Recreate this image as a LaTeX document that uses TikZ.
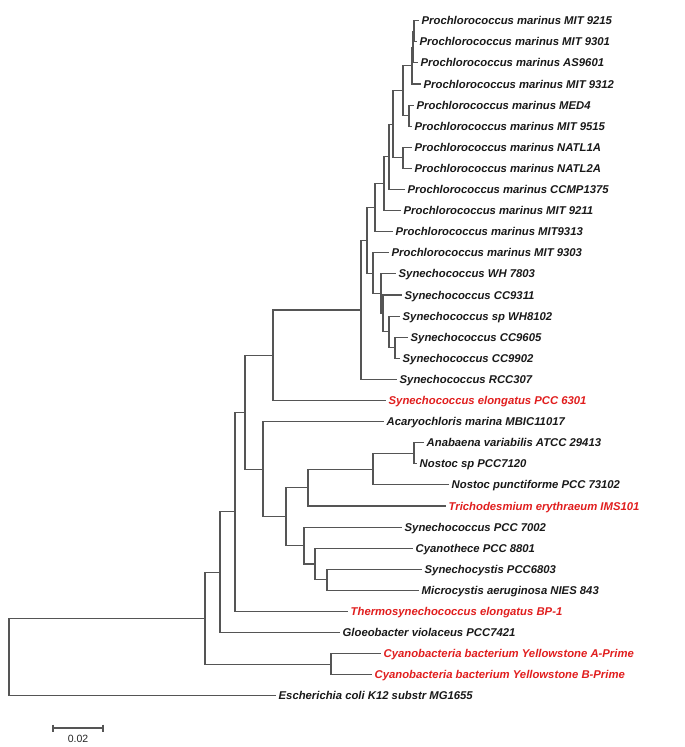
\documentclass[tikz,border=0pt]{standalone}
\usepackage{fontspec}
\setmainfont{Liberation Sans}
\definecolor{brc}{RGB}{85,85,85}
\definecolor{redlab}{RGB}{225,30,30}
\tikzset{
  br/.style={draw=brc, line width=1.1pt, line cap=rect},
  lab/.style={anchor=base west, inner sep=0pt, xshift=3.5pt, yshift=-4pt,
              font=\fontsize{11.3}{13}\selectfont\bfseries\itshape, text=black!90},
  labred/.style={lab, text=redlab},
}
\begin{document}
\begin{tikzpicture}[x=1pt,y=-1pt]
\fill[white] (0,0) rectangle (685,747);
\useasboundingbox (0,0) rectangle (685,747);
% tips
\coordinate (t0) at (418,20.7);
\coordinate (t1) at (416,41.8);
\coordinate (t2) at (417,62.9);
\coordinate (t3) at (420,84.0);
\coordinate (t4) at (413,105.1);
\coordinate (t5) at (411,126.2);
\coordinate (t6) at (411,147.3);
\coordinate (t7) at (411,168.4);
\coordinate (t8) at (404,189.5);
\coordinate (t9) at (400,210.6);
\coordinate (t10) at (392,231.7);
\coordinate (t11) at (388,252.8);
\coordinate (t12) at (395,273.9);
\coordinate (t13) at (401,295.0);
\coordinate (t14) at (399,316.1);
\coordinate (t15) at (407,337.2);
\coordinate (t16) at (399,358.3);
\coordinate (t17) at (396,379.4);
\coordinate (t18) at (385,400.5);
\coordinate (t19) at (383,421.6);
\coordinate (t20) at (423,442.7);
\coordinate (t21) at (416,463.8);
\coordinate (t22) at (448,484.9);
\coordinate (t23) at (445,506.0);
\coordinate (t24) at (401,527.1);
\coordinate (t25) at (412,548.2);
\coordinate (t26) at (421,569.3);
\coordinate (t27) at (418,590.4);
\coordinate (t28) at (347,611.5);
\coordinate (t29) at (339,632.6);
\coordinate (t30) at (380,653.7);
\coordinate (t31) at (371,674.8);
\coordinate (t32) at (275,695.9);
% internal nodes
\coordinate (c1) at (414,31.25);
\coordinate (c2) at (413,47.08);
\coordinate (c3) at (412,65.54);
\coordinate (d1) at (409,115.65);
\coordinate (e1) at (403,90.6);
\coordinate (f1) at (403,157.85);
\coordinate (g1) at (393,124.2);
\coordinate (h1) at (389,156.85);
\coordinate (i1) at (384,183.7);
\coordinate (j1) at (375,207.7);
\coordinate (n1) at (395,347.75);
\coordinate (n2) at (389,331.9);
\coordinate (n3) at (383,313.45);
\coordinate (n4) at (381,293.7);
\coordinate (n5) at (373,273.25);
\coordinate (k1) at (367,240.5);
\coordinate (F) at (361,309.95);
\coordinate (D) at (273,355.2);
\coordinate (T) at (414,453.25);
\coordinate (S) at (373,469.1);
\coordinate (Q) at (308,487.55);
\coordinate (V) at (327,579.85);
\coordinate (U) at (315,564.0);
\coordinate (R) at (304,545.55);
\coordinate (P) at (286,516.55);
\coordinate (E) at (263,469.1);
\coordinate (C) at (245,412.15);
\coordinate (B) at (235,511.8);
\coordinate (A) at (220,572.2);
\coordinate (Y) at (331,664.25);
\coordinate (I) at (205,618.2);
\coordinate (root) at (9,657.05);
% branches
\draw[br] (c1) |- (t0); \draw[br] (c1) |- (t1);
\draw[br] (c2) |- (c1); \draw[br] (c2) |- (t2);
\draw[br] (c3) |- (c2); \draw[br] (c3) |- (t3);
\draw[br] (d1) |- (t4); \draw[br] (d1) |- (t5);
\draw[br] (e1) |- (c3); \draw[br] (e1) |- (d1);
\draw[br] (f1) |- (t6); \draw[br] (f1) |- (t7);
\draw[br] (g1) |- (e1); \draw[br] (g1) |- (f1);
\draw[br] (h1) |- (g1); \draw[br] (h1) |- (t8);
\draw[br] (i1) |- (h1); \draw[br] (i1) |- (t9);
\draw[br] (j1) |- (i1); \draw[br] (j1) |- (t10);
\draw[br] (n1) |- (t15); \draw[br] (n1) |- (t16);
\draw[br] (n2) |- (t14); \draw[br] (n2) |- (n1);
\draw[br] (n3) |- (t13); \draw[br] (n3) |- (n2);
\draw[br] (n4) |- (t12); \draw[br] (n4) |- (n3);
\draw[br] (n5) |- (t11); \draw[br] (n5) |- (n4);
\draw[br] (k1) |- (j1); \draw[br] (k1) |- (n5);
\draw[br] (F) |- (k1); \draw[br] (F) |- (t17);
\draw[br] (D) |- (F); \draw[br] (D) |- (t18);
\draw[br] (T) |- (t20); \draw[br] (T) |- (t21);
\draw[br] (S) |- (T); \draw[br] (S) |- (t22);
\draw[br] (Q) |- (S); \draw[br] (Q) |- (t23);
\draw[br] (V) |- (t26); \draw[br] (V) |- (t27);
\draw[br] (U) |- (t25); \draw[br] (U) |- (V);
\draw[br] (R) |- (t24); \draw[br] (R) |- (U);
\draw[br] (P) |- (Q); \draw[br] (P) |- (R);
\draw[br] (E) |- (t19); \draw[br] (E) |- (P);
\draw[br] (C) |- (D); \draw[br] (C) |- (E);
\draw[br] (B) |- (C); \draw[br] (B) |- (t28);
\draw[br] (A) |- (B); \draw[br] (A) |- (t29);
\draw[br] (Y) |- (t30); \draw[br] (Y) |- (t31);
\draw[br] (I) |- (A); \draw[br] (I) |- (Y);
\draw[br] (root) |- (I); \draw[br] (root) |- (t32);
% labels
\node[lab] (L0) at (t0) {Prochlorococcus marinus MIT 9215};
\node[lab] (L1) at (t1) {Prochlorococcus marinus MIT 9301};
\node[lab] (L2) at (t2) {Prochlorococcus marinus AS9601};
\node[lab] (L3) at (t3) {Prochlorococcus marinus MIT 9312};
\node[lab] (L4) at (t4) {Prochlorococcus marinus MED4};
\node[lab] (L5) at (t5) {Prochlorococcus marinus MIT 9515};
\node[lab] (L6) at (t6) {Prochlorococcus marinus NATL1A};
\node[lab] (L7) at (t7) {Prochlorococcus marinus NATL2A};
\node[lab] (L8) at (t8) {Prochlorococcus marinus CCMP1375};
\node[lab] (L9) at (t9) {Prochlorococcus marinus MIT 9211};
\node[lab] (L10) at (t10) {Prochlorococcus marinus MIT9313};
\node[lab] (L11) at (t11) {Prochlorococcus marinus MIT 9303};
\node[lab] (L12) at (t12) {Synechococcus WH 7803};
\node[lab] (L13) at (t13) {Synechococcus CC9311};
\node[lab] (L14) at (t14) {Synechococcus sp WH8102};
\node[lab] (L15) at (t15) {Synechococcus CC9605};
\node[lab] (L16) at (t16) {Synechococcus CC9902};
\node[lab] (L17) at (t17) {Synechococcus RCC307};
\node[labred] (L18) at (t18) {Synechococcus elongatus PCC 6301};
\node[lab] (L19) at (t19) {Acaryochloris marina MBIC11017};
\node[lab] (L20) at (t20) {Anabaena variabilis ATCC 29413};
\node[lab] (L21) at (t21) {Nostoc sp PCC7120};
\node[lab] (L22) at (t22) {Nostoc punctiforme PCC 73102};
\node[labred] (L23) at (t23) {Trichodesmium erythraeum IMS101};
\node[lab] (L24) at (t24) {Synechococcus PCC 7002};
\node[lab] (L25) at (t25) {Cyanothece PCC 8801};
\node[lab] (L26) at (t26) {Synechocystis PCC6803};
\node[lab] (L27) at (t27) {Microcystis aeruginosa NIES 843};
\node[labred] (L28) at (t28) {Thermosynechococcus elongatus BP-1};
\node[lab] (L29) at (t29) {Gloeobacter violaceus PCC7421};
\node[labred] (L30) at (t30) {Cyanobacteria bacterium Yellowstone A-Prime};
\node[labred] (L31) at (t31) {Cyanobacteria bacterium Yellowstone B-Prime};
\node[lab] (L32) at (t32) {Escherichia coli K12 substr MG1655};
% scale bar
\coordinate (s1) at (53,728);
\coordinate (s2) at (103,728);
\draw[br, line cap=butt] (s1) -- (s2);
\draw[br, line cap=butt] ([yshift=3.5pt]s1) -- ([yshift=-3.5pt]s1);
\draw[br, line cap=butt] ([yshift=3.5pt]s2) -- ([yshift=-3.5pt]s2);
\node[anchor=base, inner sep=0pt, font=\fontsize{10.5}{12}\selectfont, text=black!85] (sl) at (78,742) {0.02};
\end{tikzpicture}
\end{document}
